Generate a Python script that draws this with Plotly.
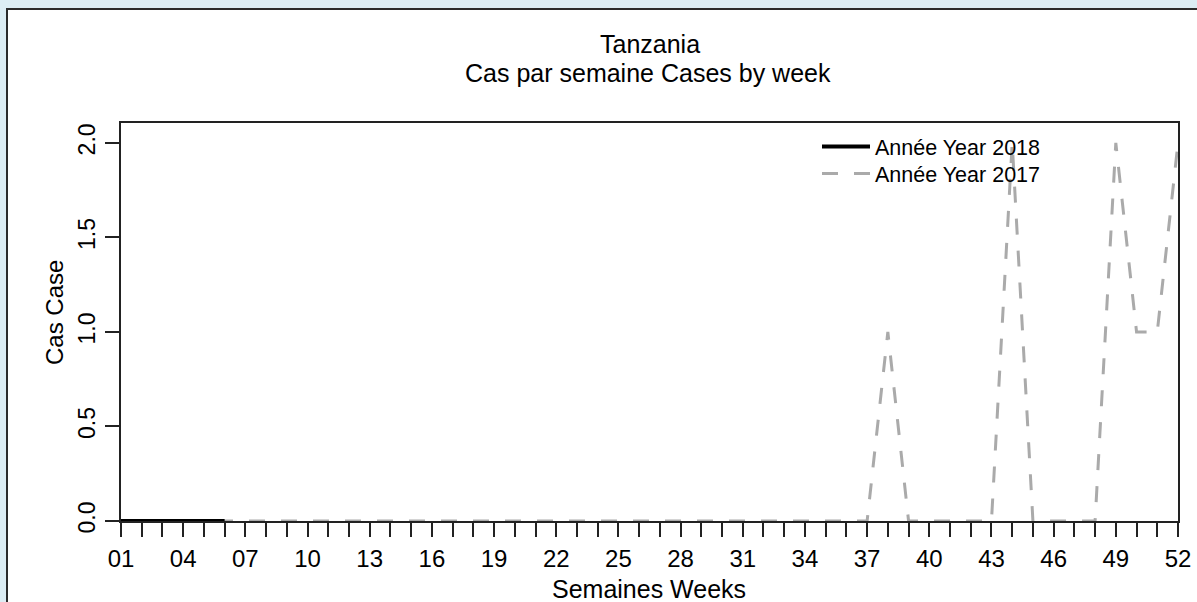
import plotly.graph_objects as go

weeks = list(range(1, 53))
week_labels = [f"{w:02d}" if (w - 1) % 3 == 0 else "" for w in weeks]

weeks_2018 = [1, 2, 3, 4, 5, 6]
cases_2018 = [0, 0, 0, 0, 0, 0]

weeks_2017 = list(range(1, 53))
cases_2017 = [0] * 37 + [1, 0, 0, 0, 0, 0, 2, 0, 0, 0, 0, 2, 1, 1, 2]

y_ticks = [0, 0.5, 1.0, 1.5, 2.0]

FONT = "Liberation Sans, Arial, sans-serif"
W, H = 1197, 602
L, R, T, B = 121, 19, 123, 81
PH = H - T - B
PW = W - L - R


def py(pix):
    return (H - B - pix) / PH


def px(pix):
    return (pix - L) / PW


fig = go.Figure()
fig.add_trace(go.Scatter(
    x=weeks_2017, y=cases_2017, mode="lines", name="Année Year 2017",
    line=dict(color="#aaaaaa", width=3, dash="16px,16px"), legend="legend2",
))
fig.add_trace(go.Scatter(
    x=weeks_2018, y=cases_2018, mode="lines", name="Année Year 2018",
    line=dict(color="black", width=4), legend="legend",
))

# outer white panel with border
fig.add_shape(type="rect", xref="paper", yref="paper",
              x0=px(7), x1=px(1210), y0=py(615), y1=py(9),
              line=dict(color="#2b2b2b", width=2), fillcolor="white", layer="below")

fig.add_annotation(text="Tanzania", xref="paper", yref="paper", x=px(649.5), y=py(44),
                   showarrow=False, font=dict(family=FONT, size=25, color="black"),
                   xanchor="center", yanchor="middle")
fig.add_annotation(text="Cas par semaine Cases by week", xref="paper", yref="paper",
                   x=px(648), y=py(73), showarrow=False,
                   font=dict(family=FONT, size=25, color="black"),
                   xanchor="center", yanchor="middle")
fig.add_annotation(text="Semaines Weeks", xref="paper", yref="paper",
                   x=px(649), y=py(589), showarrow=False,
                   font=dict(family=FONT, size=25, color="black"),
                   xanchor="center", yanchor="middle")
fig.add_annotation(text="Cas Case", xref="paper", yref="paper",
                   x=px(54), y=py(313), showarrow=False, textangle=-90,
                   font=dict(family=FONT, size=24, color="black"),
                   xanchor="center", yanchor="middle")

legend_common = dict(xanchor="left", yanchor="top", bgcolor="rgba(0,0,0,0)",
                     font=dict(family=FONT, size=21.5, color="black"),
                     itemwidth=48, tracegroupgap=0)

fig.update_layout(
    width=W, height=H,
    margin=dict(l=L, r=R, t=T, b=B, autoexpand=False),
    paper_bgcolor="#dcedf4",
    plot_bgcolor="white",
    showlegend=True,
    legend=dict(x=px(817), y=py(126), **legend_common),
    legend2=dict(x=px(817), y=py(153), **legend_common),
    font=dict(family=FONT, color="black"),
)

fig.update_xaxes(
    range=[1, 52], tickvals=weeks, ticktext=week_labels, ticks="outside", ticklen=14,
    tickwidth=2, tickcolor="#222", showline=True, linecolor="#222", linewidth=2,
    mirror=True, showgrid=False, zeroline=False, tickangle=0,
    tickfont=dict(family=FONT, size=24, color="black"), ticklabelstandoff=1,
)
fig.update_yaxes(
    range=[0, 2.105], tickvals=y_ticks, tickformat=".1f", ticks="outside", ticklen=14,
    tickwidth=2, tickcolor="#222", showline=True, linecolor="#222", linewidth=2,
    mirror=True, showgrid=False, zeroline=False, tickangle=-90,
    tickfont=dict(family=FONT, size=23, color="black"), ticklabelstandoff=1,
)

fig.write_html(
    "out.html",
    config={"displayModeBar": False},
    post_script="document.body.style.margin='0';document.body.style.padding='0';"
                "document.body.style.overflow='hidden';",
)
